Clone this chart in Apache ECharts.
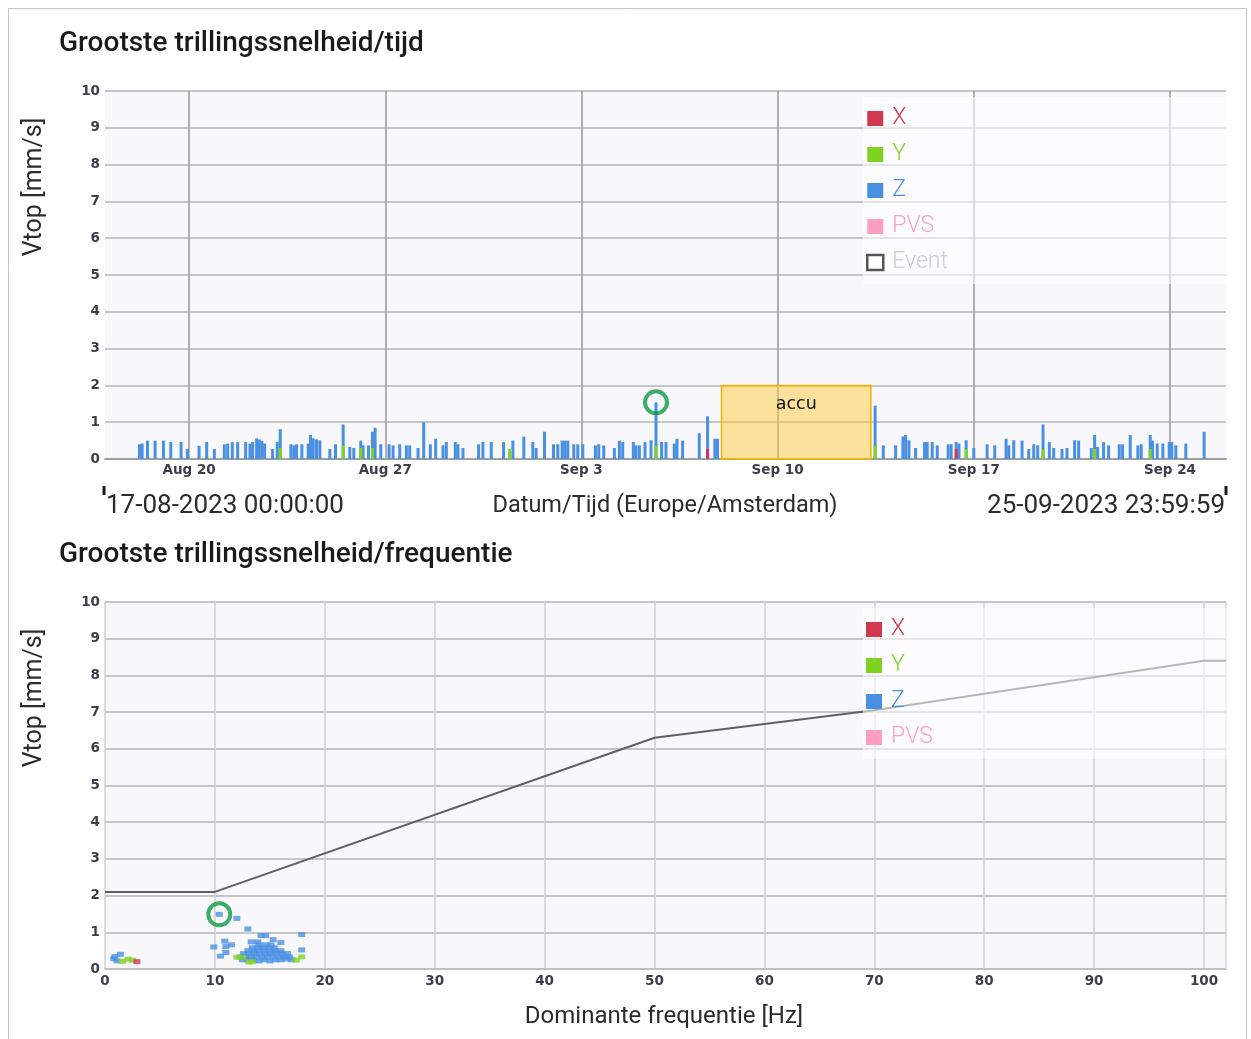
<!DOCTYPE html>
<html>
<head>
<meta charset="utf-8">
<script src="https://cdn.jsdelivr.net/npm/echarts@6/dist/echarts.min.js"></script>
<style>
  html, body { margin: 0; padding: 0; background: #ffffff; }
  #chart { width: 1251px; height: 1039px; }
</style>
</head>
<body>
<div id="chart"></div>
<script>
// ---- time chart: days since 17-08-2023 00:00 (Europe/Amsterdam) ----
const dayTicks = [3, 10, 17, 24, 31, 38];
const dayTickLabels = ['Aug 20', 'Aug 27', 'Sep 3', 'Sep 10', 'Sep 17', 'Sep 24'];
const periodStart = '17-08-2023 00:00:00';
const periodEnd = '25-09-2023 23:59:59';
const periodDays = 40;

// largest vibration velocity per event, Z component [day, mm/s]
const vtopZ = [
  [1.23,.40],[1.325,.42],[1.515,.50],[1.788,.50],[2.085,.50],[2.347,.46],[2.715,.46],[2.94,.27],
  [3.356,.36],[3.629,.46],[3.902,.27],[4.258,.40],[4.377,.42],[4.543,.46],[4.734,.46],[5.019,.46],
  [5.173,.42],[5.268,.46],[5.41,.56],[5.505,.53],[5.6,.49],[5.695,.42],[5.98,.27],[6.146,.46],
  [6.253,.81],[6.633,.40],[6.74,.37],[6.835,.40],[7.025,.40],[7.251,.42],[7.334,.65],[7.429,.56],
  [7.547,.53],[7.666,.51],[8.023,.27],[8.225,.40],[8.498,.94],[8.735,.33],[8.878,.30],[9.127,.50],
  [9.21,.37],[9.4,.37],[9.543,.74],[9.638,.85],[9.84,.40],[10.136,.40],[10.279,.37],[10.517,.40],
  [10.754,.37],[10.873,.37],
  [11.17,.30],[11.372,1.00],[11.609,.40],[11.799,.55],[12.06,.37],[12.179,.46],[12.5,.46],[12.595,.40],
  [12.773,.30],[13.331,.40],[13.485,.46],[13.782,.46],[14.221,.46],[14.554,.50],[14.946,.61],[15.266,.46],
  [15.385,.30],[15.682,.74],[16.003,.40],[16.157,.40],[16.312,.50],[16.407,.50],[16.513,.50],[16.727,.40],
  [16.87,.40],[17.048,.40],[17.499,.37],[17.618,.40],[17.796,.37],[18.176,.30],[18.354,.50],[18.473,.46],
  [18.853,.46],[18.948,.37],[19.067,.37],[19.269,.46],[19.483,.51],[19.661,1.54],[19.862,.46],[20.017,.46],
  [20.314,.42],[20.409,.55],[20.61,.50],[21.204,.70],[21.501,1.16],[21.762,.55],[21.857,.55],
  [27.48,1.45],[27.771,.37],[28.211,.37],[28.472,.61],[28.567,.65],[28.686,.51],[28.923,.30],[29.244,.46],
  [29.339,.46],[29.517,.46],[29.695,.37],[30.087,.40],[30.194,.40],[30.372,.46],[30.47,.42],[30.728,.51],
  [31.001,.30],[31.476,.40],[31.749,.37],
  [32.153,.55],[32.248,.37],[32.426,.51],[32.723,.50],[32.961,.27],[33.139,.40],[33.281,.37],[33.471,.94],
  [33.697,.46],[33.852,.30],[34.148,.27],[34.326,.30],[34.599,.51],[34.742,.50],[35.193,.30],[35.312,.65],
  [35.419,.33],[35.632,.46],[35.811,.37],[36.191,.40],[36.31,.40],[36.583,.65],[36.856,.37],[36.975,.40],
  [37.296,.65],[37.379,.50],[37.545,.42],[37.747,.42],[37.973,.46],[38.067,.46],[38.21,.37],[38.566,.42],
  [39.219,.74]
];
// Y component where it shows in front of Z
const vtopY = [
  [6.253,.30],[8.498,.36],[9.127,.30],[9.543,.30],[14.435,.27],[19.661,.36],
  [27.48,.36],[30.728,.27],[33.471,.27],[35.312,.27],[37.296,.27]
];
// X component where it shows in front of Z
const vtopX = [[21.501,.27],[30.372,.27]];

// battery ("accu") outage: start day, end day, band height in mm/s
const accuPeriod = [22.0, 27.33];
const accuLevel = 2;

// ---- frequency chart: [dominant frequency Hz, Vtop mm/s] ----
const freqZ = [
  [10.4,1.49],[12.0,1.38],[13.0,1.09],[14.2,0.91],[14.6,0.91],[17.9,0.94],[10.9,0.76],[9.9,0.60],
  [11.0,0.61],[11.5,0.66],[10.5,0.35],[11.0,0.45],[17.9,0.52],[16.0,0.72],[15.3,0.80],[13.3,0.74],[13.9,0.74],
  [12.5,.25],[13.0,.25],[13.5,.25],[14.0,.22],[14.5,.25],[15.0,.22],[15.5,.25],[16.0,.25],[16.5,.27],[17.0,.25],
  [12.3,.33],[12.8,.33],[13.3,.33],[13.8,.33],[14.3,.33],[14.8,.33],[15.3,.33],[15.8,.33],[16.3,.33],[16.8,.33],
  [12.6,.42],[13.1,.42],[13.6,.42],[14.1,.42],[14.6,.42],[15.1,.42],[15.6,.42],[16.1,.42],[16.6,.42],
  [13.0,.50],[13.5,.50],[14.0,.50],[14.5,.50],[15.0,.50],[15.5,.50],[16.0,.50],
  [13.4,.58],[13.9,.58],[14.4,.58],[14.9,.58],[15.4,.58],
  [14.0,.66],[14.6,.66],[15.1,.66],
  [0.9,0.34],[1.4,0.40],[1.1,0.22],[0.8,0.28]
];
const freqY = [[1.6,0.21],[2.1,0.27],[2.5,0.24],[12.0,0.32],[12.5,0.32],[13.1,0.19],[13.4,0.20],[17.4,0.24],[17.9,0.33]];
const freqX = [[2.9,0.20]];

// limit curve
const limitCurve = [[0,2.1],[10,2.1],[50,6.3],[70,7.05],[100,8.4],[102,8.4]];

// ---- styling ----
const COLORS = { X: '#d0384f', Y: '#7ed321', Z: '#4a90e2', PVS: '#ff9ec3', ring: '#0d9a41' };
const tickFont = { fontFamily: 'DejaVu Sans', fontWeight: 'bold', fontSize: 13.5, color: '#3a3f4a' };
const textFont = 'Roboto';

function peakOf(points) {
  return points.reduce((a, b) => (b[1] > a[1] ? b : a));
}

const chart = echarts.init(document.getElementById('chart'), null, { renderer: 'canvas' });

const valueYAxis = (gridIndex) => ({
  type: 'value', gridIndex, min: 0, max: 10, interval: 1,
  axisLine: { show: false }, axisTick: { show: false },
  axisLabel: Object.assign({ margin: 5 }, tickFont),
  splitLine: { show: true, lineStyle: { color: '#c6c6c6', width: 2 } }
});

const legendItems = (names) => names.map(n => {
  if (n === 'Event') {
    return { name: n, icon: 'rect', itemStyle: { color: '#ffffff', borderColor: '#555555', borderWidth: 2.5 },
             textStyle: { color: '#c7ced8' } };
  }
  return { name: n, icon: 'rect', textStyle: { color: COLORS[n] } };
});

const legendBase = {
  orient: 'vertical', left: 863, itemWidth: 16, itemHeight: 15, itemGap: 13,
  backgroundColor: 'rgba(255,255,255,0.55)', borderWidth: 0,
  selectedMode: false,
  textStyle: { fontFamily: textFont, fontSize: 23, fontWeight: 300, padding: [0, 0, 0, 4] }
};

const option = {
  animation: false,
  backgroundColor: '#ffffff',
  grid: [
    { left: 105, right: 25, top: 91, height: 368, show: true, backgroundColor: '#f8f8fc', borderWidth: 0 },
    { left: 105, right: 25, top: 602, height: 367, show: true, backgroundColor: '#f8f8fc', borderWidth: 0 }
  ],
  xAxis: [
    {
      type: 'value', gridIndex: 0, min: 0, max: periodDays,
      axisLine: { show: true, onZero: false, lineStyle: { color: '#a0a0a0', width: 2 } },
      axisTick: { show: false, customValues: dayTicks },
      axisLabel: Object.assign({
        customValues: dayTicks, margin: 4,
        formatter: (v) => dayTickLabels[dayTicks.indexOf(v)] || ''
      }, tickFont),
      splitLine: { show: true, lineStyle: { color: '#9a9a9a', width: 1.5 } }
    },
    {
      type: 'value', gridIndex: 1, min: 0, max: 102, interval: 10,
      axisLine: { show: true, onZero: false, lineStyle: { color: '#bdbdbd', width: 1.5 } },
      axisTick: { show: false },
      axisLabel: Object.assign({ margin: 5, showMaxLabel: false }, tickFont),
      splitLine: { show: true, lineStyle: { color: '#d2d2d2', width: 1.5 } }
    }
  ],
  yAxis: [valueYAxis(0), valueYAxis(1)],
  legend: [
    Object.assign({}, legendBase, { top: 97, padding: [10, 282, 10, 3], data: legendItems(['X', 'Y', 'Z', 'PVS', 'Event']) }),
    Object.assign({}, legendBase, { top: 608, padding: [10, 300, 10, 3], data: legendItems(['X', 'Y', 'Z', 'PVS']) })
  ],
  series: [
    {
      name: 'Z', type: 'bar', xAxisIndex: 0, yAxisIndex: 0, data: vtopZ,
      barWidth: 3, barGap: '-100%', itemStyle: { color: COLORS.Z },
      markArea: {
        silent: true,
        itemStyle: { color: 'rgba(255,200,50,0.48)', borderColor: '#f4b400', borderWidth: 1.5 },
        label: { show: true, position: 'insideTop', distance: 11, color: '#111111',
                 fontFamily: 'DejaVu Sans', fontSize: 17.5 },
        data: [[{ name: 'accu', xAxis: accuPeriod[0], yAxis: 0 }, { xAxis: accuPeriod[1], yAxis: accuLevel }]]
      }
    },
    { name: 'Y', type: 'bar', xAxisIndex: 0, yAxisIndex: 0, data: vtopY, barWidth: 3, barGap: '-100%', itemStyle: { color: COLORS.Y } },
    { name: 'X', type: 'bar', xAxisIndex: 0, yAxisIndex: 0, data: vtopX, barWidth: 3, barGap: '-100%', itemStyle: { color: COLORS.X } },
    { name: 'PVS', type: 'line', xAxisIndex: 0, yAxisIndex: 0, data: [], itemStyle: { color: COLORS.PVS } },
    { name: 'Event', type: 'line', xAxisIndex: 0, yAxisIndex: 0, data: [], itemStyle: { color: '#555555' } },
    {
      name: 'piek tijd', type: 'scatter', xAxisIndex: 0, yAxisIndex: 0, z: 5,
      data: [peakOf(vtopZ)], symbol: 'circle', symbolSize: 22,
      itemStyle: { color: 'rgba(0,0,0,0)', borderColor: COLORS.ring, borderWidth: 4 }
    },

    {
      name: 'limiet', type: 'line', xAxisIndex: 1, yAxisIndex: 1, data: limitCurve,
      showSymbol: false, lineStyle: { color: '#606060', width: 2 }, z: 1
    },
    { name: 'Z', type: 'scatter', xAxisIndex: 1, yAxisIndex: 1, data: freqZ, symbol: 'rect', symbolSize: [7, 5], itemStyle: { color: COLORS.Z } },
    { name: 'Y', type: 'scatter', xAxisIndex: 1, yAxisIndex: 1, data: freqY, symbol: 'rect', symbolSize: [7, 5], itemStyle: { color: COLORS.Y } },
    { name: 'X', type: 'scatter', xAxisIndex: 1, yAxisIndex: 1, data: freqX, symbol: 'rect', symbolSize: [7, 5], itemStyle: { color: COLORS.X } },
    { name: 'PVS', type: 'scatter', xAxisIndex: 1, yAxisIndex: 1, data: [], itemStyle: { color: COLORS.PVS } },
    {
      name: 'piek frequentie', type: 'scatter', xAxisIndex: 1, yAxisIndex: 1, z: 5,
      data: [peakOf(freqZ)], symbol: 'circle', symbolSize: 22,
      itemStyle: { color: 'rgba(0,0,0,0)', borderColor: COLORS.ring, borderWidth: 4 }
    }
  ],
  graphic: [
    { type: 'rect', silent: true, shape: { x: 8.5, y: 8.5, width: 1238, height: 1040 },
      style: { fill: 'none', stroke: '#c4c4c4', lineWidth: 1 } },
    { type: 'text', left: 59, top: 30, style: { text: 'Grootste trillingssnelheid/tijd',
      font: '500 28px Roboto', fill: '#1a1a1a' } },
    { type: 'text', left: 59, top: 541, style: { text: 'Grootste trillingssnelheid/frequentie',
      font: '500 28px Roboto', fill: '#1a1a1a' } },
    { type: 'text', x: 35, y: 187, rotation: Math.PI / 2, style: { text: 'Vtop [mm/s]',
      font: '25px Roboto', fill: '#2b2b2b', align: 'center', verticalAlign: 'middle' } },
    { type: 'text', x: 35, y: 698, rotation: Math.PI / 2, style: { text: 'Vtop [mm/s]',
      font: '25px Roboto', fill: '#2b2b2b', align: 'center', verticalAlign: 'middle' } },
    { type: 'text', x: 106, y: 506, style: { text: periodStart,
      font: '26px Roboto', fill: '#2b2b2b', align: 'left', verticalAlign: 'middle' } },
    { type: 'text', x: 665, y: 506, style: { text: 'Datum/Tijd (Europe/Amsterdam)',
      font: '23.5px Roboto', fill: '#2b2b2b', align: 'center', verticalAlign: 'middle' } },
    { type: 'text', x: 1225, y: 506, style: { text: periodEnd,
      font: '26px Roboto', fill: '#2b2b2b', align: 'right', verticalAlign: 'middle' } },
    { type: 'line', silent: true, shape: { x1: 104, y1: 486, x2: 104, y2: 495 }, style: { stroke: '#1a1a1a', lineWidth: 3 } },
    { type: 'line', silent: true, shape: { x1: 1226, y1: 486, x2: 1226, y2: 495 }, style: { stroke: '#1a1a1a', lineWidth: 3 } },
    { type: 'text', x: 664, y: 1017, style: { text: 'Dominante frequentie [Hz]',
      font: '24px Roboto', fill: '#2b2b2b', align: 'center', verticalAlign: 'middle' } }
  ]
};

chart.setOption(option);
</script>
</body>
</html>
